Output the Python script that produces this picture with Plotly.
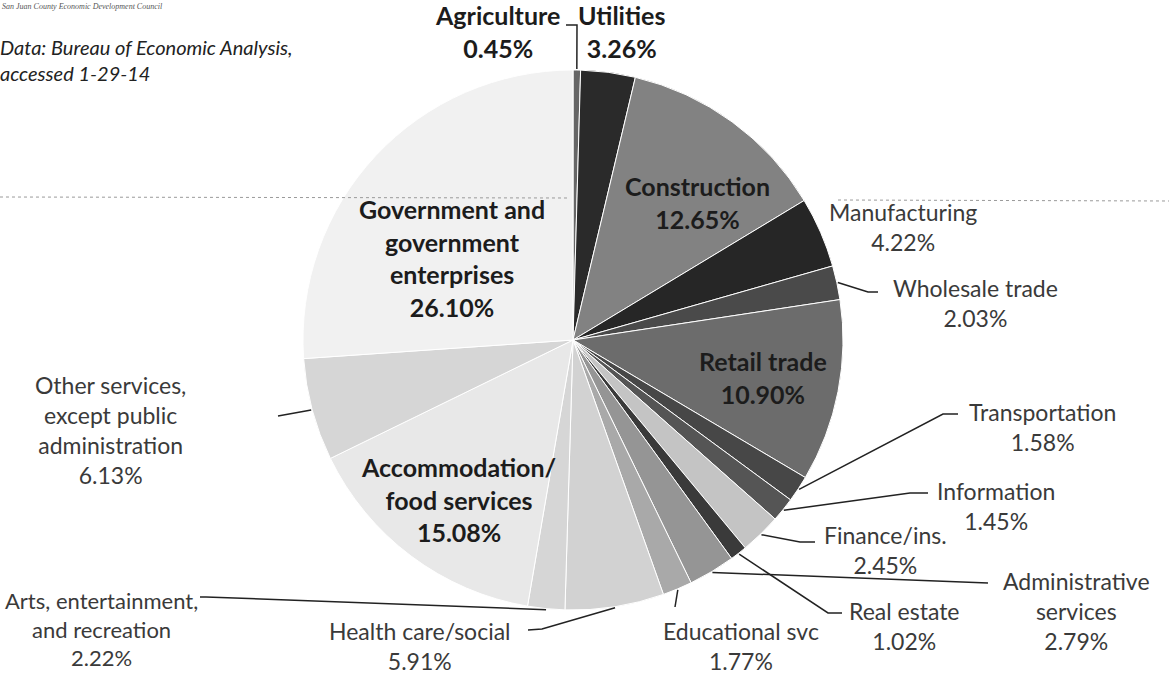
import math
import plotly.graph_objects as go

# Share of county earnings by industry (percent)
sectors = [
    "Agriculture", "Utilities", "Construction", "Manufacturing", "Wholesale trade",
    "Retail trade", "Transportation", "Information", "Finance/ins.", "Real estate",
    "Administrative services", "Educational svc", "Health care/social",
    "Arts, entertainment, and recreation", "Accommodation/food services",
    "Other services, except public administration",
    "Government and government enterprises",
]
shares = [0.45, 3.26, 12.65, 4.22, 2.03, 10.90, 1.58, 1.45, 2.45, 1.02,
          2.79, 1.77, 5.91, 2.22, 15.08, 6.13, 26.10]
label_lines = [
    "Agriculture", "Utilities", "Construction", "Manufacturing", "Wholesale trade",
    "Retail trade", "Transportation", "Information", "Finance/ins.", "Real estate",
    "Administrative<br>services", "Educational svc", "Health care/social",
    "Arts, entertainment,<br>and recreation", "Accommodation/<br>food services",
    "Other services,<br>except public<br>administration",
    "Government and<br>government<br>enterprises",
]

slice_colors = ["#666666", "#2a2a2a", "#828282", "#262626", "#4a4a4a",
                "#6c6c6c", "#474747", "#555555", "#c4c4c4", "#3a3a3a",
                "#959595", "#a9a9a9", "#d2d2d2", "#d6d6d6", "#e8e8e8",
                "#d6d6d6", "#f1f1f1"]

# ---- layout (pixels) ----
W, H = 1169, 677
CX, CY, R = 573, 340, 270

# label block centre, bold flag, font size
label_pos = [
    (497, 32, True, 25), (621, 32, True, 25), (697, 202, True, 25),
    (903, 227, False, 23), (975, 303, False, 23), (763, 377, True, 25),
    (1042, 427, False, 23), (996, 506, False, 23), (885, 550, False, 23),
    (904, 626, False, 23), (1076, 611, False, 23), (741, 646, False, 23),
    (420, 646, False, 23), (101, 629, False, 22), (458, 499, True, 25),
    (110, 430, False, 23), (452, 258, True, 25),
]
# leader path after the slice edge point (None = no leader)
leader_paths = [
    [(577, 25), (566, 25)], None, None, None,
    [(868, 292), (878, 292)], None,
    [(943, 414), (958, 414)], [(910, 493), (928, 493)],
    [(800, 542), (815, 542)], [(828, 613), (842, 613)],
    [(988, 583)], [(675, 607)], [(542, 629), (528, 630)],
    [(206, 597), (200, 597)], None, [(278, 416)], None,
]


def px(x):
    return x / W


def py(y):
    return 1 - y / H


fig = go.Figure(go.Pie(
    labels=sectors,
    values=shares,
    sort=False,
    direction="clockwise",
    rotation=0,
    textinfo="none",
    hoverinfo="label+percent",
    showlegend=False,
    marker=dict(colors=slice_colors, line=dict(color="#ffffff", width=1)),
    domain=dict(x=[px(CX - R), px(CX + R)], y=[py(CY + R), py(CY - R)]),
))

total = sum(shares)
annotations = []
shapes = []
cum = 0.0
for i, v in enumerate(shares):
    mid = (cum + v / 2) / total * 2 * math.pi
    cum += v
    x0 = CX + (R + 1) * math.sin(mid)
    y0 = CY - (R + 1) * math.cos(mid)

    lx, ly, bold, size = label_pos[i]
    body = f"{label_lines[i]}<br>{v:.2f}%"
    if bold:
        body = "<b>" + body.replace("<br>", "</b><br><b>") + "</b>"
    annotations.append(dict(
        x=px(lx), y=py(ly), xref="paper", yref="paper",
        text=body, showarrow=False, xanchor="center", yanchor="middle",
        align="center",
        font=dict(family="Lato, sans-serif", size=size,
                  color="#1c1c1c" if bold else "#3a3a3a"),
    ))

    path = leader_paths[i]
    if path:
        pts = [(x0, y0)] + path
        d = "M " + " L ".join(f"{px(a)},{py(b)}" for a, b in pts)
        shapes.append(dict(type="path", path=d, xref="paper", yref="paper",
                           line=dict(color="#222222", width=1.5)))

# faint horizontal rule across the page
shapes.append(dict(type="line", xref="paper", yref="paper",
                   x0=0, y0=py(197), x1=px(570), y1=py(198),
                   line=dict(color="#9a9a9a", width=1, dash="dot")))
shapes.append(dict(type="line", xref="paper", yref="paper",
                   x0=px(838), y0=py(200), x1=1, y1=py(201),
                   line=dict(color="#9a9a9a", width=1, dash="dot")))

annotations.append(dict(
    x=px(-2), y=py(60), xref="paper", yref="paper", xanchor="left",
    yanchor="middle", align="left", showarrow=False,
    text="<i>Data: Bureau of Economic Analysis,<br>accessed 1-29-14</i>",
    font=dict(family="Lato, sans-serif", size=20, color="#222222"),
))
annotations.append(dict(
    x=0, y=py(7), xref="paper", yref="paper", xanchor="left",
    yanchor="middle", showarrow=False,
    text="<i>San Juan County Economic Development Council</i>",
    font=dict(family="Liberation Serif, serif", size=8, color="#555555"),
))

fig.update_layout(
    width=W, height=H,
    margin=dict(l=0, r=0, t=0, b=0),
    paper_bgcolor="white", plot_bgcolor="white",
    annotations=annotations, shapes=shapes,
)

fig.write_html("out.html")
